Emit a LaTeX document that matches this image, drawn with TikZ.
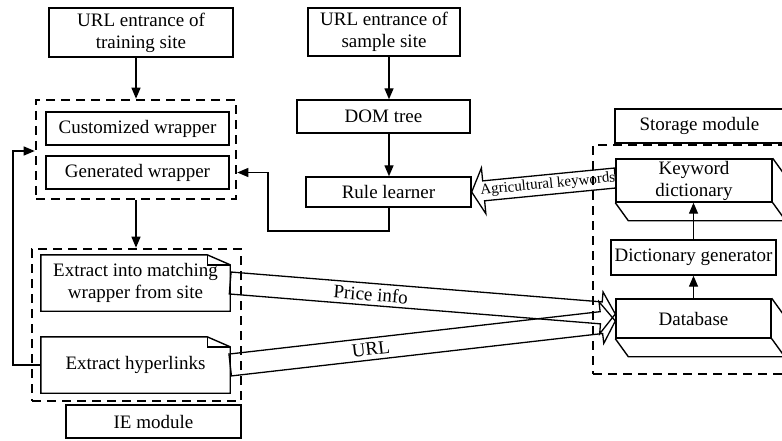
\documentclass[tikz,border=0pt]{standalone}
\usepackage{fontspec}
\setmainfont{Liberation Serif}
\usetikzlibrary{arrows.meta,calc}
\tikzset{
  box/.style={draw, line width=1.4pt, inner sep=0pt, align=center, font=\fontsize{19}{22}\selectfont},
  plain/.style={inner sep=0pt, align=center, font=\fontsize{19}{22}\selectfont},
  dbox/.style={draw, line width=2.6pt, dash pattern=on 9pt off 6pt, inner sep=0pt},
  arr/.style={line width=1.4pt, -{Triangle[length=11pt,width=9pt]}},
  conn/.style={line width=1.4pt},
  fat/.style={line width=1.3pt, line join=miter},
}
\newcommand{\fatarrow}[5]{% start, end, half width, head half width, head length
  \coordinate (fatc) at ($(#2)!#5!(#1)$);
  \draw[fat] ($(#1)!#3!90:(#2)$) -- ($(fatc)!#3!90:(#2)$) -- ($(fatc)!#4!90:(#2)$) -- (#2) -- ($(fatc)!#4!-90:(#2)$) -- ($(fatc)!#3!-90:(#2)$) -- ($(#1)!#3!-90:(#2)$) -- cycle;
}
\begin{document}
\begin{tikzpicture}[x=1pt,y=-1pt]
\useasboundingbox (0,0) rectangle (782,441);
\clip (0,0) rectangle (782,441);

% left and middle column
\node[box, minimum width=184pt, minimum height=49pt] (train) at (141,32.5) {URL entrance of\\training site};
\node[box, minimum width=152pt, minimum height=48pt] (sample) at (384,32) {URL entrance of\\sample site};
\node[box, minimum width=173pt, minimum height=33pt] (dom) at (383.5,116.5) {DOM tree};
\node[box, minimum width=165pt, minimum height=30pt] (rule) at (388.5,192) {Rule learner};
\node[dbox, minimum width=200pt, minimum height=99pt] (dash1) at (136,149.5) {};
\node[box, minimum width=183pt, minimum height=33pt] (cust) at (137.5,128.5) {Customized wrapper};
\node[box, minimum width=183pt, minimum height=33pt] (gen) at (137.5,172.5) {Generated wrapper};
\node[dbox, minimum width=209pt, minimum height=152pt] (dash2) at (136.5,325) {};
\node[plain, minimum width=189pt, minimum height=56pt] (ext1) at (135.5,283) {Extract into matching\\wrapper from site};
\node[plain, minimum width=189pt, minimum height=56pt] (ext2) at (135.5,365) {Extract hyperlinks};
\node[box, minimum width=175pt, minimum height=33pt] (ie) at (153.5,421.5) {IE module};

% storage module
\node[box, minimum width=169pt, minimum height=34pt] (stor) at (699.5,126) {Storage module};
\node[dbox, minimum width=200pt, minimum height=229pt] (dash3) at (693,259.5) {};
\node[box, minimum width=156pt, minimum height=43pt] (kw) at (694,180.5) {Keyword\\dictionary};
\node[box, minimum width=165pt, minimum height=35pt] (dg) at (693.5,257.5) {Dictionary generator};
\node[box, minimum width=155pt, minimum height=39pt] (db) at (693.5,318.5) {Database};

% 3D extrusions
\foreach \n in {kw,db} {
  \draw[conn] (\n.south west) -- ++(13,18) -- ($(\n.south east)+(13,18)$) -- ($(\n.north east)+(13,18)$) -- (\n.north east)
    (\n.south east) -- ++(13,18);
}

% note shapes
\foreach \n in {ext1,ext2} {
  \draw[conn] (\n.south west) -- (\n.north west) -- ([xshift=-23pt]\n.north east) -- ([yshift=-10pt]\n.north east) -- (\n.south east) -- cycle;
  \draw[conn] ([xshift=-23pt]\n.north east) -- ([xshift=-23pt,yshift=-10pt]\n.north east) -- ([yshift=-10pt]\n.north east);
}

% plain connectors
\coordinate (axis) at (389,0);
\draw[arr] (sample.south -| axis) -- (dom.north -| axis);
\draw[arr] (dom.south -| axis) -- (rule.north -| axis);
\coordinate (rlA) at (389,231);
\coordinate (rlB) at (268,231);
\draw[arr] (rule.south -| axis) -- (rlA) -- (rlB) |- (gen.east -| dash1.east);
\draw[arr] (train.south -| dash1.north) -- (dash1.north);
\draw[arr] (dash1.south) -- (dash2.north -| dash1.south);
\coordinate (fbx) at (13,0);
\draw[arr] (ext2.west) -- (ext2.west -| fbx) |- ([yshift=-1.5pt]dash1.west);
\draw[arr] (dg.north) -- (dg.north |- kw.south);
\draw[arr] (db.north) -- (db.north |- dg.south);

% fat arrows
\coordinate (aS) at ([yshift=2.5pt]kw.west);
\coordinate (aE) at (rule.east);
\fatarrow{aS}{aE}{10pt}{23pt}{12pt}
\coordinate (pS) at (ext1.east);
\coordinate (pE) at ([yshift=4.5pt]db.west);
\fatarrow{pS}{pE}{11pt}{21pt}{14pt}
\coordinate (uS) at (ext2.east);
\coordinate (uE) at ([yshift=-2.5pt]db.west);
\fatarrow{uS}{uE}{11pt}{21pt}{14pt}

\path (pS) -- node[plain, sloped, pos=0.365] (plab) {Price info} (pE);
\path (uS) -- node[plain, sloped, pos=0.365] (ulab) {URL} (uE);
\path (aS) -- node[sloped, pos=0.47, inner sep=0pt, font=\fontsize{15}{17}\selectfont] (alab) {Agricultural keywords} (aE);
\end{tikzpicture}
\end{document}
